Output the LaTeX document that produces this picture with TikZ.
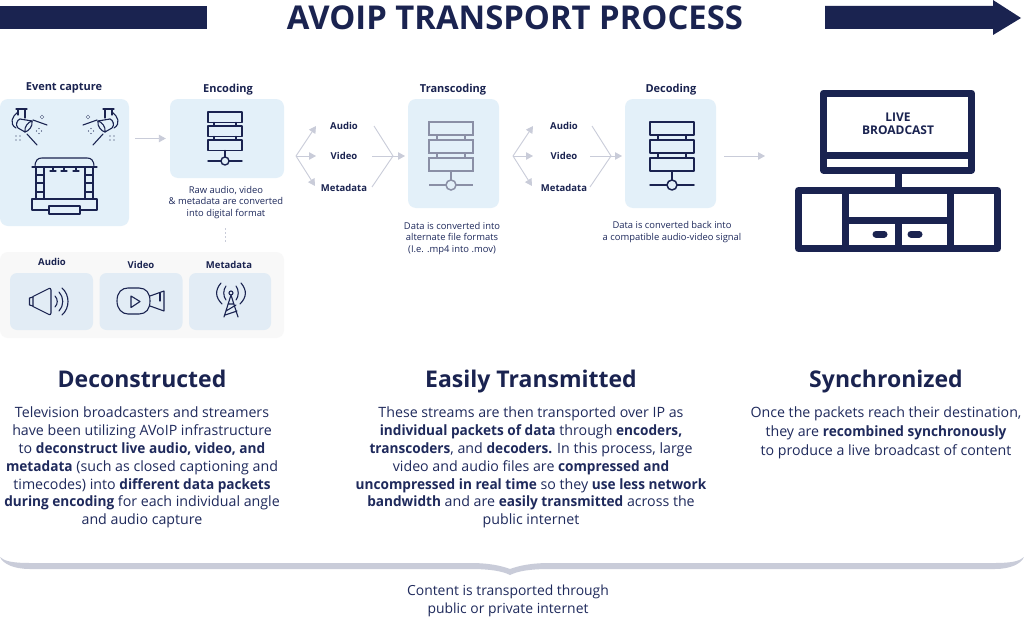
\documentclass[tikz,border=0pt]{standalone}
\usepackage{fontspec}
\setmainfont{Open Sans}[BoldFeatures={FakeStretch=0.96}]
\newfontfamily\labelfont{Open Sans}
\usetikzlibrary{arrows.meta}
\definecolor{navy}{HTML}{1A2350}
\definecolor{bodytxt}{HTML}{1F2A5C}
\definecolor{cardblue}{HTML}{E3F0F9}
\definecolor{subblue}{HTML}{E2ECF5}
\definecolor{panelgrey}{HTML}{F8F8F8}
\definecolor{linkgrey}{HTML}{C9CCD9}
\definecolor{iconlight}{HTML}{8A8FA6}
\newcommand{\fs}[2]{\fontsize{#1}{#2}\selectfont}
\tikzset{
  card/.style={fill=cardblue,rounded corners=8pt,inner sep=0pt,draw=none},
  subcard/.style={fill=subblue,rounded corners=7pt,inner sep=0pt,draw=none},
  head/.style={text=navy,font=\labelfont\fs{11}{13}\bfseries,anchor=base,inner sep=0pt},
  tinyhead/.style={head,font=\labelfont\fs{9.5}{12}\bfseries},
  small/.style={text=bodytxt,font=\fs{9.4}{11.7}\selectfont,align=center,inner sep=0pt},
  bodyblock/.style={text=bodytxt,font=\fs{14.2}{17.85}\selectfont,align=center,inner sep=0pt},
  colhead/.style={text=navy,font=\labelfont\fs{23}{28}\bfseries,anchor=base,inner sep=0pt},
  link/.style={draw=linkgrey,line width=0.9pt},
  linkarrow/.style={link,-{Triangle[length=7pt,width=7.5pt,fill=linkgrey]}},
  ico/.style={draw=navy,line width=1.1pt,line join=round,line cap=round},
  server/.pic={
    \draw[pic actions,fill=none] (-22,-31.5) rectangle (22,-18.5);
    \draw[pic actions,fill=none] (-22,-13.5) rectangle (22,-0.5);
    \draw[pic actions,fill=none] (-22,4.5) rectangle (22,17.5);
    \draw[pic actions] (-14,-18.5)--(-14,-13.5) (14,-18.5)--(14,-13.5) (-14,-0.5)--(-14,4.5) (14,-0.5)--(14,4.5);
    \draw[pic actions] (0,17.5)--(0,26.5) (-22,31.5)--(-5,31.5) (5,31.5)--(22,31.5);
    \draw[pic actions,fill=none] (0,31.5) circle (5);
  },
  smallserver/.pic={
    \draw[pic actions,fill=none] (-17,-26.5) rectangle (17,-16);
    \draw[pic actions,fill=none] (-17,-12.5) rectangle (17,-2);
    \draw[pic actions,fill=none] (-17,1.5) rectangle (17,12);
    \draw[pic actions] (-11,-16)--(-11,-12.5) (11,-16)--(11,-12.5) (-11,-2)--(-11,1.5) (11,-2)--(11,1.5);
    \draw[pic actions] (0,12)--(0,18.5) (-17,22.5)--(-4,22.5) (4,22.5)--(17,22.5);
    \draw[pic actions,fill=none] (0,22.5) circle (4);
  },
  spot/.pic={
    \draw[pic actions] (16,109)--(27,109) (18,109)--(18,115) (25,109)--(25,118);
    \draw[pic actions] (18,112) .. controls (12,116) and (9,124) .. (16,128);
    \draw[pic actions] (20,119) -- (32,121);
    \draw[pic actions] (32,121) .. controls (33,126) and (29,131) .. (25,132);
    \draw[pic actions] (32,121) .. controls (28,122) and (24,127) .. (25,132);
    \draw[pic actions] (25,132) -- (18,128) .. controls (15,125) and (17,120) .. (20,119);
    \draw[pic actions] (33,120)--(47,125) (27,134)--(37,145);
    \draw[pic actions,line width=1.3pt] (42,115.5)--(42,115.5) (40.5,117)--(40.5,117) (43.5,117)--(43.5,117) (42,118.5)--(42,118.5);
    \draw[pic actions,line width=1.3pt] (39,128.5)--(39,128.5) (36.5,131)--(36.5,131) (41.5,131)--(41.5,131) (39,133.5)--(39,133.5);
    \draw[pic actions,line width=1.3pt] (16,136)--(16,136) (20,136)--(20,136) (16,140)--(16,140) (20,140)--(20,140);
  }
}
\begin{document}
\begin{tikzpicture}[x=1pt,y=-1pt]
\useasboundingbox (0,0) rectangle (1024,618);
\fill[white] (0,0) rectangle (1024,618);

% title banner
\fill[navy] (0,6) rectangle (207,29);
\fill[navy] (825,6) -- (993,6) -- (993,0) -- (1021,18) -- (993,35) -- (993,29) -- (825,29) -- cycle;
\node[text=navy,font=\labelfont\fs{32.8}{36}\bfseries,inner sep=0pt,anchor=base] (title) at (515,29.5) {AVOIP TRANSPORT PROCESS};

% cards
\node[card,minimum width=129pt,minimum height=127pt] (evt) at (64.5,162.5) {};
\node[card,minimum width=114pt,minimum height=79pt] (enc) at (227,138.5) {};
\node[card,minimum width=91pt,minimum height=109pt] (trs) at (453.5,153.5) {};
\node[card,minimum width=91pt,minimum height=109pt] (dec) at (670.5,153.5) {};
\node[fill=panelgrey,rounded corners=8pt,inner sep=0,minimum width=284pt,minimum height=86pt] (panel) at (142,295) {};
\node[subcard,minimum width=83pt,minimum height=57pt] (sa) at (51.5,301.5) {};
\node[subcard,minimum width=83pt,minimum height=57pt] (sv) at (141,301.5) {};
\node[subcard,minimum width=82pt,minimum height=57pt] (sm) at (230,301.5) {};

% heads
\node[head] (hevt) at (64,90) {Event capture};
\node[head] (henc) at (228,92.5) {Encoding};
\node[head] (htrs) at (453,92.5) {Transcoding};
\node[head] (hdec) at (671,92.5) {Decoding};
\node[tinyhead] (la) at (52,265.5) {Audio};
\node[tinyhead] (lv) at (141,268.5) {Video};
\node[tinyhead] (lm) at (229,268.5) {Metadata};

% stream labels
\node[tinyhead] (a1) at (344,129) {Audio};
\node[tinyhead] (v1) at (344,159.5) {Video};
\node[tinyhead] (m1) at (344,191) {Metadata};
\node[tinyhead] (a2) at (564,129) {Audio};
\node[tinyhead] (v2) at (564,159.5) {Video};
\node[tinyhead] (m2) at (564,191) {Metadata};

% connectors
\draw[linkarrow,shorten <=6pt,shorten >=4pt] (evt.east |- enc.west) -- (enc.west);
\coordinate (hub1) at (296,156);
\coordinate (end1a) at (316,126);
\coordinate (end1v) at (316,156);
\coordinate (end1m) at (315,186);
\coordinate (mrg1) at (393,156);
\coordinate (st1a) at (374,126);
\coordinate (st1v) at (372,156);
\coordinate (st1m) at (372,187);
\coordinate (out1) at (405,156);
\draw[linkarrow] (hub1) -- (end1a);
\draw[linkarrow] (hub1) -- (end1v);
\draw[linkarrow] (hub1) -- (end1m);
\draw[link] (st1a) -- (mrg1);
\draw[link] (st1v) -- (mrg1);
\draw[link] (st1m) -- (mrg1);
\draw[linkarrow] (mrg1) -- (out1);
\coordinate (hub2) at (513,156);
\coordinate (end2a) at (533,126);
\coordinate (end2v) at (533,156);
\coordinate (end2m) at (532,186);
\coordinate (mrg2) at (611,156);
\coordinate (st2a) at (592,126);
\coordinate (st2v) at (590,156);
\coordinate (st2m) at (590,187);
\coordinate (out2) at (622,156);
\draw[linkarrow] (hub2) -- (end2a);
\draw[linkarrow] (hub2) -- (end2v);
\draw[linkarrow] (hub2) -- (end2m);
\draw[link] (st2a) -- (mrg2);
\draw[link] (st2v) -- (mrg2);
\draw[link] (st2m) -- (mrg2);
\draw[linkarrow] (mrg2) -- (out2);
\coordinate (st3) at (724,156);
\coordinate (tvend) at (765,156);
\draw[linkarrow] (st3) -- (tvend);
\coordinate (dashtop) at (225,228);
\coordinate (dashbot) at (225,243);
\draw[draw=linkgrey,line width=0.6pt,dash pattern=on 2pt off 2pt] (dashtop) -- (dashbot);

% server icons
\pic[ico,line width=1.4pt] at (225,138.5) {smallserver};
\pic[draw=iconlight,line width=1.5pt] at (451,153.5) {server};
\pic[ico,line width=1.5pt] at (672,153.5) {server};

% event capture icons
\pic[ico] at (0,0) {spot};
\pic[ico,xscale=-1] at (130,0) {spot};
\draw[ico] (35,167) .. controls (35,160) and (38,158) .. (42,158) -- (87,158) .. controls (91,158) and (94,160) .. (94,167);
\draw[ico] (32,167) -- (97,167);
\draw[ico] (36,167) rectangle (44,199) (36,175)--(44,175) (36,183)--(44,183) (36,192)--(44,192);
\draw[ico] (85,167) rectangle (93,199) (85,175)--(93,175) (85,183)--(93,183) (85,192)--(93,192);
\draw[ico] (32,199) rectangle (97,210);
\draw[ico,fill=cardblue] (49,206) rectangle (80,214);
\foreach \lx in {53,64,76}{\draw[ico] (\lx,167)--(\lx,171) (\lx-3,171)--(\lx+3,171);}

% audio icon
\draw[ico] (33,297) -- (29.5,298) -- (29.5,305) -- (33,306);
\draw[ico] (33,296.5) -- (49,288.5) .. controls (50,288) and (51,288.5) .. (51,290) -- (51,313) .. controls (51,314.5) and (50,315) .. (49,314.5) -- (33,306.5) -- cycle;
\draw[ico] (55,296) .. controls (58,299) and (58,304) .. (55,307);
\draw[ico] (59,292) .. controls (64,297) and (64,306) .. (59,311);
\draw[ico] (62,288) .. controls (70,295) and (70,308) .. (62,315);

% video icon
\draw[ico] (117,301) .. controls (117,292) and (122,288) .. (128,288) -- (139,288) .. controls (146,288) and (150,293) .. (150,301) .. controls (150,309) and (146,314) .. (139,314) -- (128,314) .. controls (122,314) and (117,309) .. (117,301) -- cycle;
\draw[ico] (131,296) -- (140,301.5) -- (131,307.5) -- cycle;
\draw[ico] (150,296) -- (164,291) -- (164,311) -- (150,306);
\draw[ico] (160,293)--(160,301);

% metadata icon
\draw[ico] (231,295) -- (224,317) (231,295) -- (238,317) (226,311) -- (236,305) (228,304)--(234,304) (225,315)--(237,311);
\draw[ico] (231,293) circle (2);
\draw[ico] (226,286) .. controls (223,290) and (223,296) .. (226,300);
\draw[ico] (236,286) .. controls (239,290) and (239,296) .. (236,300);
\draw[ico] (221,283) .. controls (215,290) and (215,297) .. (222,304);
\draw[ico] (241,283) .. controls (247,290) and (247,297) .. (240,304);

% tv
\draw[navy,line width=7pt,line join=round] (823.5,93) rectangle (971.5,170);
\draw[navy,line width=7pt] (823.5,155) -- (971.5,155);
\draw[navy,line width=7pt] (898,170) -- (898,190);
\draw[navy,line width=7pt,line join=round] (798.5,190.5) rectangle (997.5,248.5);
\draw[navy,line width=7pt] (845,190.5) -- (845,248.5) (950,190.5) -- (950,248.5) (845,220) -- (950,220) (898,220) -- (898,248.5);
\draw[navy,line width=7pt,line cap=round] (876,234) -- (884,234) (911,234) -- (919,234);
\node[text=navy,font=\labelfont\fs{12}{13.5}\bfseries,align=center,inner sep=0pt] (live) at (898,124) {LIVE\\BROADCAST};

% captions
\node[small] (c1) at (226,202.5) {Raw audio, video\\\& metadata are converted\\into digital format};
\node[small] (c2) at (452,238.5) {Data is converted into\\alternate file formats\\(I.e. .mp4 into .mov)};
\node[small] (c3) at (672,232) {Data is converted back into\\a compatible audio-video signal};

% columns
\node[colhead] (h1) at (142,387) {Deconstructed};
\node[colhead] (h2) at (531,387) {Easily Transmitted};
\node[colhead] (h3) at (886,387) {Synchronized};
\node[bodyblock] (b1) at (142,467.5) {Television broadcasters and streamers\\have been utilizing AVoIP infrastructure\\to \textbf{deconstruct live audio, video, and}\\\textbf{metadata} (such as closed captioning and\\timecodes) into \textbf{different data packets}\\\textbf{during encoding} for each individual angle\\and audio capture};
\node[bodyblock] (b2) at (531,467.5) {These streams are then transported over IP as\\\textbf{individual packets of data} through \textbf{encoders,}\\\textbf{transcoders}, and \textbf{decoders.} In this process, large\\video and audio files are \textbf{compressed and}\\\textbf{uncompressed in real time} so they \textbf{use less network}\\\textbf{bandwidth} and are \textbf{easily transmitted} across the\\public internet};
\node[bodyblock,font=\fs{14.2}{18.9}\selectfont] (b3) at (886,433) {Once the packets reach their destination,\\they are \textbf{recombined synchronously}\\to produce a live broadcast of content};

% brace
\fill[linkgrey] (0,557) .. controls (4,561) and (12,563) .. (30,563) -- (470,563) .. controls (490,563) and (502,566) .. (510,569) .. controls (518,566) and (530,563) .. (550,563) -- (995,563) .. controls (1012,563) and (1020,561) .. (1024,557) .. controls (1021,564) and (1010,569) .. (995,569) -- (550,569) .. controls (530,569) and (518,571) .. (510,575) .. controls (502,571) and (490,569) .. (470,569) -- (30,569) .. controls (14,569) and (3,564) .. (0,557) -- cycle;
\node[bodyblock,font=\fs{13.9}{17.9}\selectfont] (foot) at (508,601) {Content is transported through\\public or private internet};
\end{tikzpicture}
\end{document}
